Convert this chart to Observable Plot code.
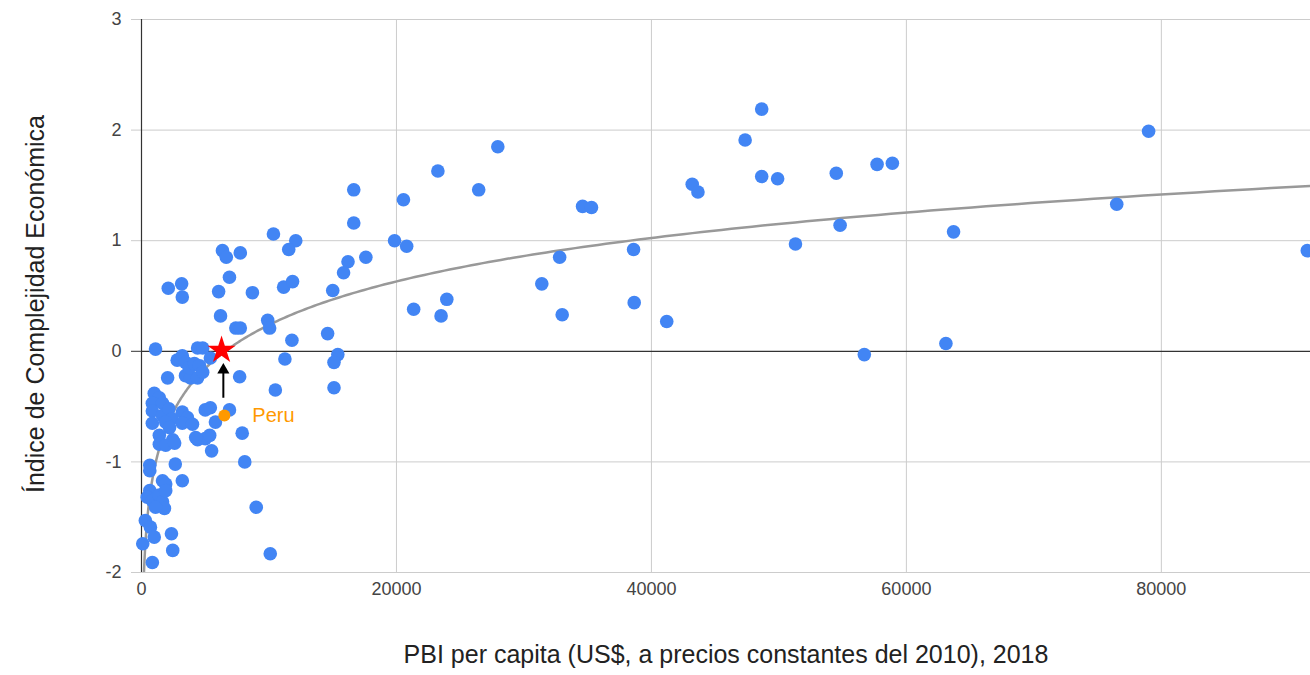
<!DOCTYPE html>
<html><head><meta charset="utf-8">
<script src="https://cdn.jsdelivr.net/npm/d3@7"></script>
<script src="https://cdn.jsdelivr.net/npm/@observablehq/plot@0.6"></script>
<style>
body{margin:0;background:#fff;font-family:"Liberation Sans",Arial,sans-serif}
</style>
</head><body><div id="chart"></div>
<script>
// PBI per capita (US$ constantes 2010), 2018
const gdp = [
  1100, 2800, 3200, 3450, 2050, 3450, 3850, 3750, 1000, 1400,
  850, 1650, 850, 1650, 2150, 2400, 3200, 3600, 850, 1900,
  2200, 3200, 4000, 1400, 2450, 1400, 1900, 2600, 4400, 5000,
  650, 650, 2650, 3200, 1650, 1900, 650, 450, 850, 1400,
  1650, 1900, 1800, 1100, 300, 700, 1000, 100, 2350, 2450,
  850,
  4400, 4800, 5400, 4150, 4550, 4400, 4800, 7700, 5000, 5400,
  6900, 5800, 4250, 5350, 5500, 7900, 8100, 9000, 10100,
  10350, 12100, 11550, 6350, 6650, 7750, 6900, 2100, 3150, 3200,
  6050, 8700, 11150, 11850, 6200, 7400, 7750, 9900, 10050, 11800,
  11250, 10500,
  23250, 20550, 19850, 20800, 16650, 16650, 17600, 16200, 15850, 15000,
  14600, 15400, 15100, 15100, 21350, 23500, 23950, 26450, 27950,
  34600, 35300, 32800, 31400, 33000, 38600, 38650, 41200, 43200, 43650,
  47350, 48650, 48650, 49900, 51300, 54500, 54800, 56700, 57700, 58900,
  63700, 63100, 76500, 79000, 91450
];
// Índice de Complejidad Económica
const eci = [
  0.02, -0.08, -0.04, -0.10, -0.24, -0.22, -0.24, -0.15, -0.38, -0.42,
  -0.47, -0.47, -0.54, -0.58, -0.52, -0.61, -0.55, -0.60, -0.65, -0.64,
  -0.69, -0.65, -0.66, -0.76, -0.80, -0.84, -0.85, -0.83, -0.80, -0.79,
  -1.03, -1.08, -1.02, -1.17, -1.17, -1.20, -1.26, -1.32, -1.35, -1.30,
  -1.36, -1.26, -1.42, -1.41, -1.53, -1.59, -1.68, -1.74, -1.65, -1.80,
  -1.91,
  0.03, 0.03, -0.06, -0.11, -0.13, -0.24, -0.19, -0.23, -0.53, -0.51,
  -0.53, -0.64, -0.78, -0.76, -0.90, -0.74, -1.00, -1.41, -1.83,
  1.06, 1.00, 0.92, 0.91, 0.85, 0.89, 0.67, 0.57, 0.61, 0.49,
  0.54, 0.53, 0.58, 0.63, 0.32, 0.21, 0.21, 0.28, 0.21, 0.10,
  -0.07, -0.35,
  1.63, 1.37, 1.00, 0.95, 1.46, 1.16, 0.85, 0.81, 0.71, 0.55,
  0.16, -0.03, -0.10, -0.33, 0.38, 0.32, 0.47, 1.46, 1.85,
  1.31, 1.30, 0.85, 0.61, 0.33, 0.92, 0.44, 0.27, 1.51, 1.44,
  1.91, 2.19, 1.58, 1.56, 0.97, 1.61, 1.14, -0.03, 1.69, 1.70,
  1.08, 0.07, 1.33, 1.99, 0.91
];
const peruLabel = ["Peru"];
const peruGdp = [6500];
const peruEci = [-0.58];
const targetGdp = [6280];
const targetEci = [0.01];
const arrowGdp = [6420];
const arrowFromEci = [-0.42];
const arrowToEci = [-0.17];
const xTicks = [0, 20000, 40000, 60000, 80000];
const yTicks = [-2, -1, 0, 1, 2, 3];
const xTitle = "PBI per capita (US$, a precios constantes del 2010), 2018";
const yTitle = "Índice de Complejidad Económica";
const xMax = 91700;

const data = gdp.map((g, i) => ({gdp: g, eci: eci[i]}));
const peru = peruGdp.map((g, i) => ({gdp: g, eci: peruEci[i], label: peruLabel[i]}));
const target = targetGdp.map((g, i) => ({gdp: g, eci: targetEci[i]}));
const arrow = arrowGdp.map((g, i) => ({gdp: g, from: arrowFromEci[i], to: arrowToEci[i]}));

// logarithmic trend line (least squares on ln x)
const lnx = data.map(d => Math.log(d.gdp));
const mx = d3.mean(lnx), my = d3.mean(data, d => d.eci);
const b = d3.sum(data, (d, i) => (lnx[i] - mx) * (d.eci - my)) / d3.sum(lnx, v => (v - mx) ** 2);
const a = my - b * mx;
const xMin = d3.min(gdp);
const trend = d3.range(400).map(i => {
  const x = xMin * Math.pow(xMax / xMin, i / 399);
  return {gdp: x, eci: a + b * Math.log(x)};
});

const fmt = d => String(d);
const chart = Plot.plot({
  width: 1310, height: 675,
  marginLeft: 141, marginRight: 0, marginTop: 19, marginBottom: 103,
  style: {fontFamily: "'Liberation Sans', Arial, sans-serif", fontSize: "18px", background: "#fff", overflow: "visible"},
  x: {domain: [0, xMax]},
  y: {domain: [-2, 3]},
  marks: [
    Plot.gridX({ticks: xTicks.filter(t => t !== 0), stroke: "#ccc", strokeOpacity: 1}),
    Plot.gridY({ticks: yTicks.filter(t => t !== 0), stroke: "#ccc", strokeOpacity: 1}),
    Plot.axisY({ticks: yTicks.filter(t => t !== 0), tickSize: 10, tickPadding: 10, stroke: "#ccc", strokeOpacity: 1, fill: "#444", tickFormat: fmt, label: null, fontSize: 18}),
    Plot.axisY({ticks: [0], tickSize: 10, tickPadding: 10, stroke: "#333", strokeOpacity: 1, fill: "#444", tickFormat: fmt, label: null, fontSize: 18}),
    Plot.axisX({ticks: xTicks, tickSize: 0, tickPadding: 10, fill: "#444", tickFormat: fmt, label: null, fontSize: 18}),
    Plot.ruleX([0], {stroke: "#333", strokeWidth: 1.2}),
    Plot.ruleY([0], {stroke: "#333", strokeWidth: 1.2}),
    Plot.line(trend, {x: "gdp", y: "eci", stroke: "#999", strokeWidth: 2.5, clip: true}),
    Plot.dot(data, {x: "gdp", y: "eci", r: 6.8, fill: "#4285f4"}),
    Plot.dot(peru, {x: "gdp", y: "eci", r: 6, fill: "#ff9900"}),
    Plot.text(peru, {x: "gdp", y: "eci", text: "label", dx: 28, textAnchor: "start", fill: "#ff9900", fontSize: 20}),
    Plot.link(arrow, {x1: "gdp", x2: "gdp", y1: "from", y2: "to", stroke: "#000", strokeWidth: 2}),
    Plot.dot(arrow, {x: "gdp", y: "to", symbol: "triangle", r: 4.5, fill: "#000"}),
    Plot.dot(target, {x: "gdp", y: "eci", symbol: "star", r: 8.8, fill: "#ff0000"}),
    Plot.text([xTitle], {frameAnchor: "bottom", dy: 90, fontSize: 25, fill: "#222"}),
    Plot.text([yTitle], {frameAnchor: "left", textAnchor: "middle", rotate: -90, dx: -106, dy: 8, fontSize: 25, fill: "#222"})
  ]
});
document.getElementById("chart").append(chart);
</script>
</body></html>
